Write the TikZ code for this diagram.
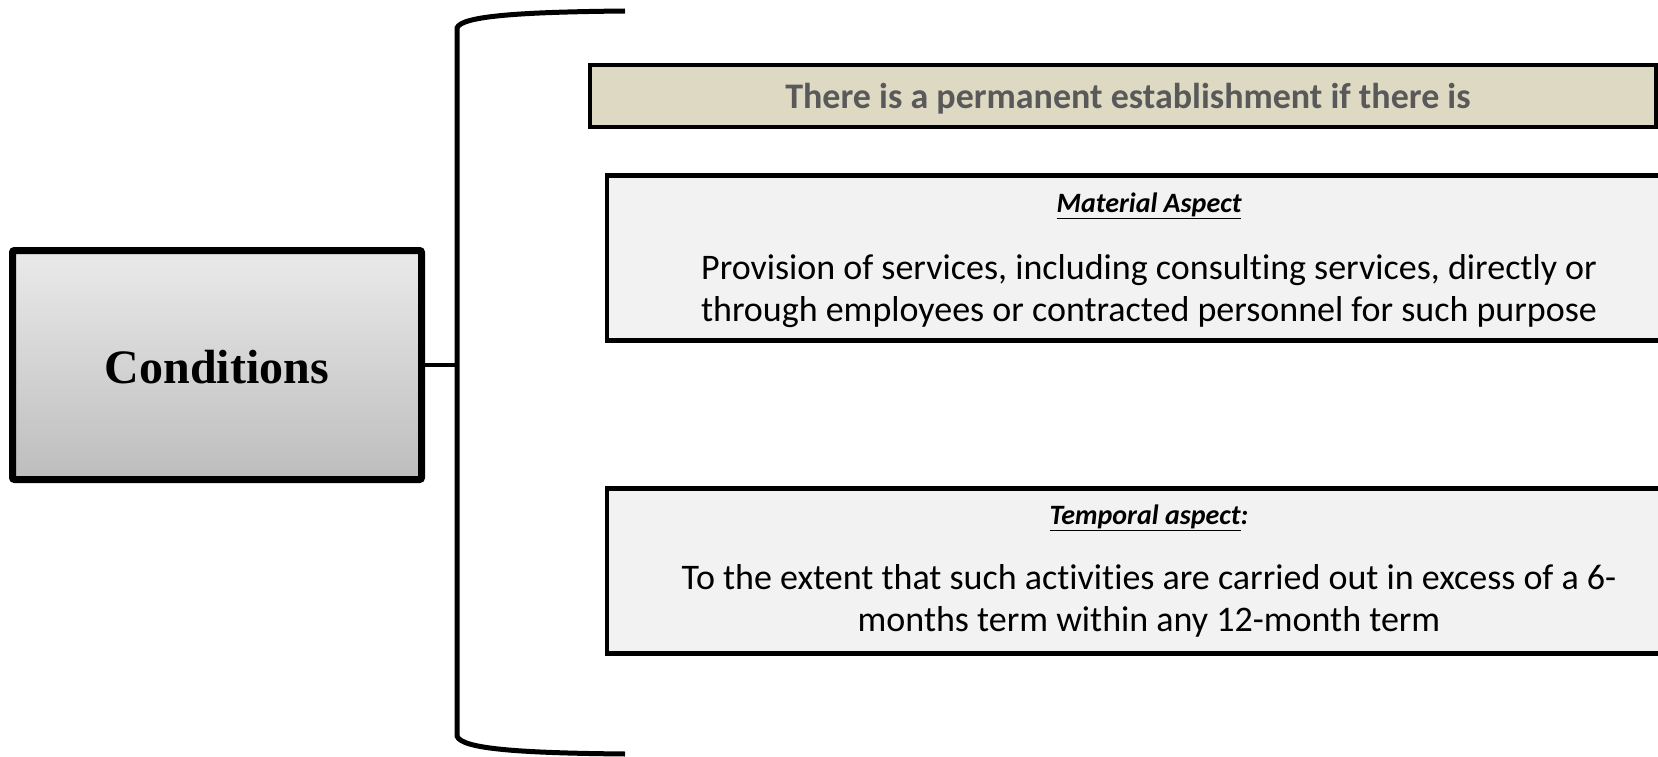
\documentclass[tikz,border=0pt]{standalone}
\usepackage{fontspec}
\newfontfamily\calibri[Ligatures={NoCommon}]{Carlito}
\newfontfamily\tnr{Liberation Serif}
\definecolor{hdrfill}{HTML}{DDD9C3}
\definecolor{boxfill}{HTML}{F2F2F2}
\definecolor{hdrtext}{HTML}{595959}
\definecolor{gradtop}{HTML}{EAEAEA}
\definecolor{gradbot}{HTML}{BDBDBD}
\begin{document}
\begin{tikzpicture}[x=1pt,y=-1pt,
  condbox/.style={draw=black, line width=7pt, rounded corners=2pt, top color=gradtop, bottom color=gradbot, minimum width=409pt, minimum height=229pt, inner sep=0pt},
  hdrbox/.style={draw=black, line width=4.5pt, fill=hdrfill, minimum width=1066pt, minimum height=62pt, inner sep=0pt},
  aspbox/.style={draw=black, line width=4.5pt, fill=boxfill, minimum width=1084pt, minimum height=165pt, inner sep=0pt},
  lbl/.style={inner sep=0pt, font=\calibri\bfseries\itshape\fontsize{28}{33}\selectfont},
  body/.style={inner sep=0pt, align=center, font=\calibri\fontsize{36}{42}\selectfont},
  bracket/.style={draw=black, line width=5pt},
  link/.style={draw=black, line width=4pt}
]
\useasboundingbox (0,0) rectangle (1658,757);
\clip (0,0) rectangle (1658,757);

\node[condbox] (cond) at (217,365) {};
\node[inner sep=0pt, font=\tnr\bfseries\fontsize{48}{56}\selectfont] (condtxt) at (217,367) {Conditions};

\draw[bracket] (625,11) .. controls (520,12) and (461,16) .. (457,28) -- (457,736) .. controls (461,749) and (520,753) .. (625,754);
\coordinate (brk) at (457,365);
\draw[link] (cond.east) -- (brk);

\node[hdrbox] (hdr) at (1123,96) {};
\node[inner sep=0pt, text=hdrtext, font=\calibri\bfseries\fontsize{36}{43}\selectfont] (hdrtxt) at (1128,99) {There is a permanent establishment if there is};

\node[aspbox] (mat) at (1149,258) {};
\node[lbl] (matlbl) at (1149,206) {\underline{Material Aspect}};
\node[body] (matbody) at (1149,291) {Provision of services, including consulting services, directly or\\through employees or contracted personnel for such purpose};

\node[aspbox] (tmp) at (1149,571) {};
\node[lbl] (tmplbl) at (1149,518) {\underline{Temporal aspect}:};
\node[body] (tmpbody) at (1149,601) {To the extent that such activities are carried out in excess of a 6-\\months term within any 12-month term};
\end{tikzpicture}
\end{document}
